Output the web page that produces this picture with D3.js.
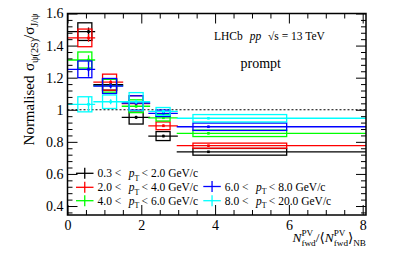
<!DOCTYPE html>
<html>
<head>
<meta charset="utf-8">
<script src="https://cdn.jsdelivr.net/npm/d3@7"></script>
<style>
body { margin: 0; background: #fff; }
svg { display: block; font-family: "Liberation Serif", "DejaVu Serif", serif; }
</style>
</head>
<body>
<svg id="chart" width="399" height="257"></svg>
<script>
// ── Data ────────────────────────────────────────────────────────────────────
const binX  = [0.57, 1.17, 1.86, 2.60, 3.82];
const binLo = [0.00, 0.70, 1.47, 2.19, 2.96];
const binHi = [0.75, 1.51, 2.24, 2.99, 9.00];
const boxLo = [0.28, 0.95, 1.67, 2.40, 3.40];
const boxHi = [0.66, 1.33, 2.05, 2.78, 5.94];

const ptLo = ['0.3', '2.0', '4.0', '6.0', '8.0'];
const ptHi = ['2.0', '4.0', '6.0', '8.0', '20.0'];
const colors = ['#000000', '#ff0000', '#00ff00', '#0000ff', '#00ffff'];

const val0 = [1.487, 1.157, 0.953, 0.836, 0.738];
const val1 = [1.448, 1.172, 1.038, 0.900, 0.776];
const val2 = [1.310, 1.150, 1.022, 0.950, 0.853];
const val3 = [1.252, 1.148, 1.042, 0.978, 0.894];
const val4 = [1.034, 1.050, 1.050, 0.990, 0.947];

const stat0 = [0.025, 0.012, 0.010, 0.008, 0.005];
const stat1 = [0.024, 0.012, 0.010, 0.008, 0.005];
const stat2 = [0.030, 0.012, 0.010, 0.008, 0.006];
const stat3 = [0.047, 0.015, 0.012, 0.010, 0.006];
const stat4 = [0.047, 0.015, 0.012, 0.010, 0.006];

const sys0 = [0.055, 0.035, 0.042, 0.028, 0.021];
const sys1 = [0.055, 0.050, 0.050, 0.024, 0.016];
const sys2 = [0.050, 0.040, 0.040, 0.020, 0.020];
const sys3 = [0.052, 0.047, 0.045, 0.020, 0.023];
const sys4 = [0.047, 0.042, 0.057, 0.024, 0.023];

const xTicks = [0, 2, 4, 6, 8];
const yTicks = [0.4, 0.6, 0.8, 1.0, 1.2, 1.4, 1.6];

const values = [val0, val1, val2, val3, val4];
const stats = [stat0, stat1, stat2, stat3, stat4];
const syss = [sys0, sys1, sys2, sys3, sys4];

// ── Layout ──────────────────────────────────────────────────────────────────
const PL = 67.5, PR = 366, PT = 13.5, PB = 215;
const x = d3.scaleLinear().domain([0, 8.09]).range([PL, PR]);
const y = d3.scaleLinear().domain([0.344, 1.6]).range([PB, PT]);

const svg = d3.select('#chart');

svg.append('clipPath').attr('id', 'plotclip')
    .append('rect').attr('x', PL).attr('y', PT).attr('width', PR - PL).attr('height', PB - PT);

// reference line at 1
svg.append('line')
    .attr('x1', PL).attr('x2', PR).attr('y1', y(1)).attr('y2', y(1))
    .attr('stroke', '#000').attr('stroke-width', 1.1).attr('stroke-dasharray', '2,2');

const plot = svg.append('g').attr('clip-path', 'url(#plotclip)');

values.forEach((vals, s) => {
    const c = colors[s];
    const g = plot.append('g');
    const pts = vals.map((v, i) => ({ i, v, st: stats[s][i], sy: syss[s][i] }));

    g.selectAll('.box').data(pts).join('rect')
        .attr('x', d => x(boxLo[d.i]))
        .attr('width', d => x(boxHi[d.i]) - x(boxLo[d.i]))
        .attr('y', d => y(d.v + d.sy))
        .attr('height', d => y(d.v - d.sy) - y(d.v + d.sy))
        .attr('fill', 'none').attr('stroke', c).attr('stroke-width', 1.3);

    g.selectAll('.hbar').data(pts).join('line')
        .attr('x1', d => x(binLo[d.i])).attr('x2', d => x(binHi[d.i]))
        .attr('y1', d => y(d.v)).attr('y2', d => y(d.v))
        .attr('stroke', c).attr('stroke-width', 1.3);

    g.selectAll('.vbar').data(pts).join('line')
        .attr('x1', d => x(binX[d.i])).attr('x2', d => x(binX[d.i]))
        .attr('y1', d => y(d.v + d.st)).attr('y2', d => y(d.v - d.st))
        .attr('stroke', c).attr('stroke-width', 1.3);

    g.selectAll('.dot').data(pts).join('rect')
        .attr('x', d => x(binX[d.i]) - 1.3).attr('y', d => y(d.v) - 1.3)
        .attr('width', 2.6).attr('height', 2.6).attr('fill', c);
});

// ── Axes ────────────────────────────────────────────────────────────────────
const xMinor = d3.range(0, 8.01, 0.5).filter(v => v % 2 !== 0);
const yMinor = d3.range(0.36, 1.601, 0.04).filter(v => Math.abs(v * 5 - Math.round(v * 5)) > 1e-6);

function plain(sel) {
    sel.select('.domain').remove();
    sel.selectAll('.tick line').attr('stroke', '#000').attr('stroke-width', 1);
}

function labels(sel) {
    plain(sel);
    sel.selectAll('.tick text').attr('fill', '#000').attr('font-size', 14)
        .attr('font-family', '"Liberation Serif", serif');
}

svg.append('g').attr('transform', `translate(0,${PB})`)
    .call(d3.axisBottom(x).tickValues(xTicks).tickSize(-10).tickPadding(5).tickFormat(d3.format('d')))
    .call(labels);
svg.append('g').attr('transform', `translate(0,${PB})`)
    .call(d3.axisBottom(x).tickValues(xMinor).tickSize(-5).tickFormat(''))
    .call(plain);
svg.append('g').attr('transform', `translate(0,${PT})`)
    .call(d3.axisTop(x).tickValues(xTicks).tickSize(-10).tickFormat(''))
    .call(plain);
svg.append('g').attr('transform', `translate(0,${PT})`)
    .call(d3.axisTop(x).tickValues(xMinor).tickSize(-5).tickFormat(''))
    .call(plain);

svg.append('g').attr('transform', `translate(${PL},0)`)
    .call(d3.axisLeft(y).tickValues(yTicks).tickSize(-10).tickPadding(4)
        .tickFormat(d => d === 1 ? '1' : d3.format('.1f')(d)))
    .call(labels);
svg.append('g').attr('transform', `translate(${PL},0)`)
    .call(d3.axisLeft(y).tickValues(yMinor).tickSize(-5).tickFormat(''))
    .call(plain);
svg.append('g').attr('transform', `translate(${PR},0)`)
    .call(d3.axisRight(y).tickValues(yTicks).tickSize(-10).tickFormat(''))
    .call(plain);
svg.append('g').attr('transform', `translate(${PR},0)`)
    .call(d3.axisRight(y).tickValues(yMinor).tickSize(-5).tickFormat(''))
    .call(plain);

svg.append('rect')
    .attr('x', PL).attr('y', PT).attr('width', PR - PL).attr('height', PB - PT)
    .attr('fill', 'none').attr('stroke', '#000').attr('stroke-width', 1.5);

// ── Rich text helper (italic, sub/superscripts) ─────────────────────────────
function rich(parent, pieces, size) {
    const g = parent.append('g');
    let cx = 0;
    pieces.forEach(p => {
        if (p.t !== undefined) {
            const fs = size * (p.s || 1);
            const el = g.append('text')
                .attr('x', cx).attr('y', (p.dy || 0) * size)
                .attr('font-size', fs)
                .attr('font-style', p.it ? 'italic' : null)
                .attr('fill', '#000')
                .text(p.t);
            cx += el.node().getComputedTextLength() + (p.gap || 0) * size;
        } else {
            let w = 0;
            if (p.sup) {
                const e = g.append('text').attr('x', cx).attr('y', -0.42 * size)
                    .attr('font-size', size * 0.68).text(p.sup);
                w = Math.max(w, e.node().getComputedTextLength());
            }
            if (p.sub) {
                const e = g.append('text').attr('x', cx).attr('y', 0.32 * size)
                    .attr('font-size', size * 0.68).text(p.sub);
                w = Math.max(w, e.node().getComputedTextLength());
            }
            cx += w + (p.gap || 0) * size;
        }
    });
    return { g, width: cx };
}

// y title
const yTitle = svg.append('g').attr('transform', `translate(33.5,${PT}) rotate(-90)`);
const yt = rich(yTitle, [
    { t: 'Normalised', gap: 0.3 },
    { t: 'σ' }, { sub: 'ψ(2S)' },
    { t: '/σ' }, { sub: 'J/ψ' }
], 15);
yt.g.attr('transform', `translate(${-yt.width},0)`);

// x title
const xTitleG = svg.append('g');
const xt = rich(xTitleG, [
    { t: 'N', it: true }, { sup: 'PV', sub: 'fwd' },
    { t: '/⟨' },
    { t: 'N', it: true }, { sup: 'PV', sub: 'fwd' },
    { t: '⟩' }, { sub: 'NB' }
], 13.5);
xTitleG.attr('transform', `translate(${PR - xt.width},242)`);

// LHCb label
const lh = svg.append('g').attr('transform', 'translate(214,40)');
rich(lh, [
    { t: 'LHCb', gap: 0.6 },
    { t: 'pp', it: true, gap: 0.6 },
    { t: '√' }, { t: 's = 13 TeV' }
], 11.5);
svg.append('text').attr('x', 260.8).attr('y', 68.3).attr('text-anchor', 'middle')
    .attr('font-size', 14).text('prompt');

// ── Legend ──────────────────────────────────────────────────────────────────
const legendPos = [
    [76, 173.3], [76, 187.3], [76, 200.7], [203.3, 186.5], [203.3, 200.7]
];
ptLo.forEach((lo, s) => {
    const [lx, ly] = legendPos[s];
    const c = colors[s];
    svg.append('line').attr('x1', lx).attr('x2', lx + 17.5).attr('y1', ly).attr('y2', ly)
        .attr('stroke', c).attr('stroke-width', 1.3);
    svg.append('line').attr('x1', lx + 8.75).attr('x2', lx + 8.75).attr('y1', ly - 5.5).attr('y2', ly + 5.5)
        .attr('stroke', c).attr('stroke-width', 1.3);
    const tg = svg.append('g').attr('transform', `translate(${lx + 21.5},${ly + 4})`);
    rich(tg, [
        { t: `${lo} <`, gap: 0.65 },
        { t: 'p', it: true }, { sub: 'T', gap: 0.2 },
        { t: `< ${ptHi[s]} GeV/c` }
    ], 11.5);
});
</script>
</body>
</html>
